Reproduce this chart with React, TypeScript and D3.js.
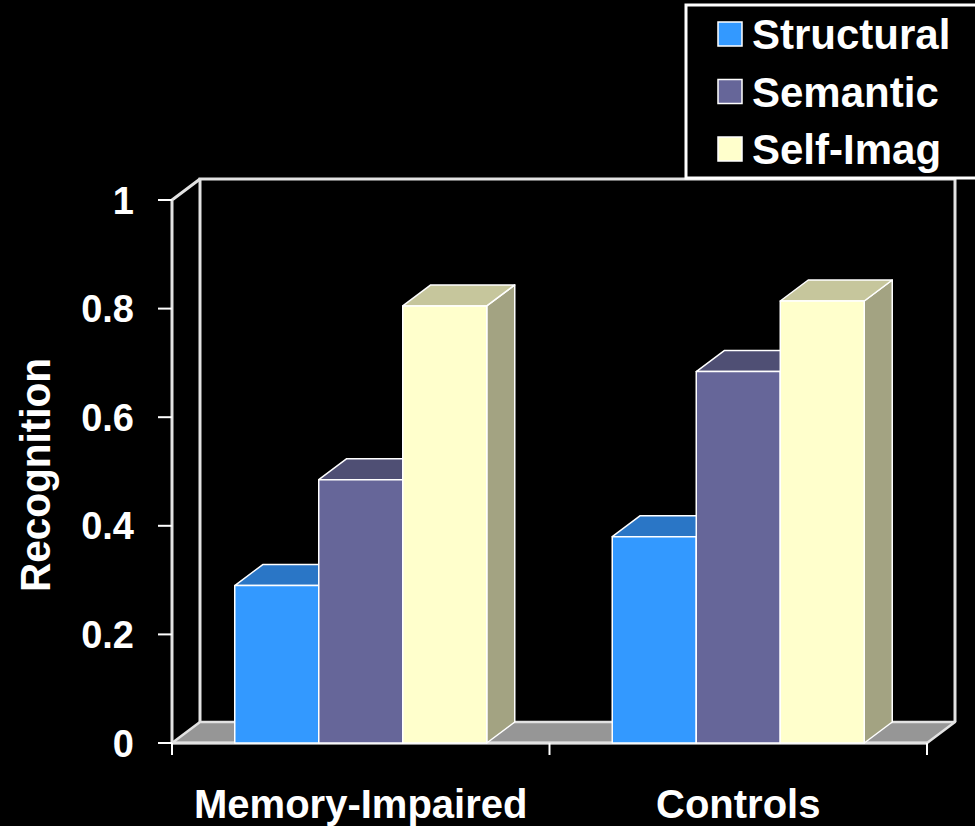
import React from "react";
import * as d3 from "d3";

// Recognition scores by group and encoding condition
const groups = ["Memory-Impaired", "Controls"];
const conditions = ["Structural", "Semantic", "Self-Imag"];
const structuralValues = [0.29, 0.38];
const semanticValues = [0.485, 0.684];
const selfImagValues = [0.805, 0.814];
const yTicks = [0, 0.2, 0.4, 0.6, 0.8, 1];

const seriesValues = [structuralValues, semanticValues, selfImagValues];
const frontColors = ["#3399ff", "#666699", "#ffffcc"];
const topColors = ["#2a76c6", "#4f4f74", "#c6c69c"];
const sideColors = ["#2468ad", "#44445f", "#a3a382"];

const W = 975;
const H = 826;
const FONT = "Arial, 'Liberation Sans', Helvetica, sans-serif";

// Oblique depth of the 3-D frame
const DX = 28;
const DY = -21;

const x0 = 172;
const x1 = 927;
const y = d3.scaleLinear().domain([0, 1]).range([743, 200]);
const xGroup = d3.scaleBand<string>().domain(groups).range([x0, x1]).padding(0);
const bw = xGroup.bandwidth();
const xCond = d3
  .scaleBand<string>()
  .domain(conditions)
  .range([0, bw])
  .paddingInner(0)
  .paddingOuter(0.747);

const pts = (p: [number, number][]) => p.map((q) => q.join(",")).join(" ");

export default function App() {
  const base = y(0);
  const top = y(1);
  const lineColor = "#e2e2e2";

  const bars: React.ReactNode[] = [];
  groups.forEach((g, gi) => {
    conditions.forEach((c, ci) => {
      const v = seriesValues[ci][gi];
      const l = (xGroup(g) as number) + (xCond(c) as number);
      const r = l + xCond.bandwidth();
      const t = y(v);
      bars.push(
        <g key={`${g}-${c}`} stroke="#ffffff" strokeWidth={1.5} strokeLinejoin="round">
          <polygon
            points={pts([
              [r, t],
              [r + DX, t + DY],
              [r + DX, base + DY],
              [r, base],
            ])}
            fill={sideColors[ci]}
          />
          <polygon
            points={pts([
              [l, t],
              [l + DX, t + DY],
              [r + DX, t + DY],
              [r, t],
            ])}
            fill={topColors[ci]}
          />
          <rect x={l} y={t} width={r - l} height={base - t} fill={frontColors[ci]} />
        </g>
      );
    });
  });

  return (
    <svg
      width={W}
      height={H}
      style={{ position: "absolute", left: 0, top: 0, background: "#000" }}
      fontFamily={FONT}
    >
      <rect x={0} y={0} width={W} height={H} fill="#000" />

      {/* floor */}
      <polygon
        points={pts([
          [x0, base],
          [x0 + DX, base + DY],
          [x1 + DX, base + DY],
          [x1, base],
        ])}
        fill="#969696"
        stroke={lineColor}
        strokeWidth={2.5}
        strokeLinejoin="round"
      />

      {/* back wall and side wall outlines */}
      <g stroke={lineColor} strokeWidth={3} fill="none">
        <polyline
          points={pts([
            [x0 + DX, base + DY],
            [x0 + DX, top + DY],
            [x1 + DX, top + DY],
            [x1 + DX, base + DY],
          ])}
        />
        <polyline
          points={pts([
            [x0, base],
            [x0, top],
            [x0 + DX, top + DY],
          ])}
        />
        <line x1={x0} y1={base} x2={x1} y2={base} />
      </g>

      {bars}

      {/* y axis ticks and labels */}
      <g>
        {yTicks.map((t) => (
          <g key={t}>
            <line x1={158} x2={x0} y1={y(t)} y2={y(t)} stroke="#ffffff" strokeWidth={2} />
            <text
              x={134}
              y={y(t)}
              dy="0.36em"
              textAnchor="end"
              fill="#ffffff"
              fontSize={38}
              fontWeight="bold"
            >
              {d3.format("")(t)}
            </text>
          </g>
        ))}
      </g>

      {/* x axis ticks and labels */}
      <g>
        {[x0, ...groups.map((g) => (xGroup(g) as number) + bw)].map((xv, i) => (
          <line key={i} x1={xv} x2={xv} y1={base} y2={base + 12} stroke="#ffffff" strokeWidth={2} />
        ))}
        {groups.map((g) => (
          <text
            key={g}
            x={(xGroup(g) as number) + bw / 2}
            y={818}
            textAnchor="middle"
            fill="#ffffff"
            fontSize={40}
            fontWeight="bold"
          >
            {g}
          </text>
        ))}
      </g>

      {/* y axis title */}
      <text
        transform="translate(50,475) rotate(-90)"
        textAnchor="middle"
        fill="#ffffff"
        fontSize={42}
        fontWeight="bold"
        textLength={234}
        lengthAdjust="spacingAndGlyphs"
      >
        Recognition
      </text>

      {/* legend */}
      <g>
        <rect x={686} y={5} width={320} height={173} fill="#000" stroke="#ffffff" strokeWidth={3} />
        {conditions.map((c, i) => {
          const cy = 34 + i * 57.5;
          return (
            <g key={c}>
              <rect
                x={718}
                y={cy - 12}
                width={24}
                height={24}
                fill={frontColors[i]}
                stroke="#ffffff"
                strokeWidth={1.5}
              />
              <text x={752} y={cy + 15} fill="#ffffff" fontSize={42} fontWeight="bold">
                {c}
              </text>
            </g>
          );
        })}
      </g>
    </svg>
  );
}
